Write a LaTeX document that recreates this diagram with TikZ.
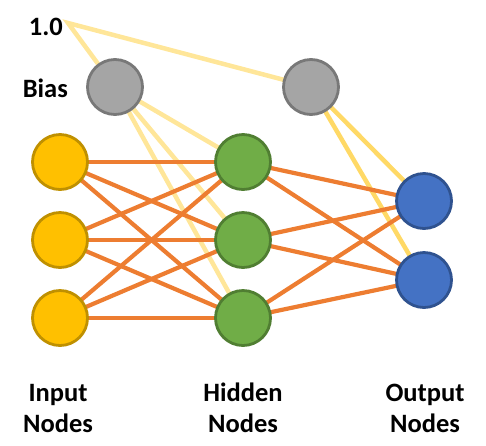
\documentclass[tikz,border=0pt]{standalone}
\usepackage{fontspec}
\setmainfont{Carlito}
\usetikzlibrary{backgrounds}
\definecolor{inF}{HTML}{FFC000}
\definecolor{inD}{HTML}{BF9000}
\definecolor{hidF}{HTML}{70AD47}
\definecolor{hidD}{HTML}{507E32}
\definecolor{outF}{HTML}{4472C4}
\definecolor{outD}{HTML}{2F528F}
\definecolor{biasF}{HTML}{A5A5A5}
\definecolor{biasD}{HTML}{787878}
\definecolor{edgeO}{HTML}{ED7D31}
\definecolor{edgeY}{HTML}{FFE699}
\definecolor{edgeY2}{HTML}{FFD966}
\tikzset{
  neuron/.style={circle, minimum size=55pt, inner sep=0pt, line width=2.8pt},
  inn/.style={neuron, fill=inF, draw=inD},
  hid/.style={neuron, fill=hidF, draw=hidD},
  outn/.style={neuron, fill=outF, draw=outD},
  biasn/.style={neuron, fill=biasF, draw=biasD},
  conn/.style={draw=edgeO, line width=4.2pt},
  bconn/.style={draw=edgeY, line width=4.5pt},
  bconnB/.style={draw=edgeY2, line width=4.5pt},
  lbl/.style={font=\fontsize{26.5}{31}\selectfont\bfseries, align=center, inner sep=0pt}
}
\begin{document}
\begin{tikzpicture}[x=1pt,y=-1pt]
\useasboundingbox (0,0) rectangle (486,445);
\node[biasn] (b1) at (115,87) {};
\node[biasn] (b2) at (311,87) {};
\node[inn] (i1) at (60,162) {};
\node[inn] (i2) at (60,240) {};
\node[inn] (i3) at (60,318) {};
\node[hid] (h1) at (243,162) {};
\node[hid] (h2) at (243,240) {};
\node[hid] (h3) at (243,318) {};
\node[outn] (o1) at (424,201) {};
\node[outn] (o2) at (424,280) {};
\coordinate (one) at (68,23);
\node[lbl, anchor=east] (onelbl) at (63,27) {1.0};
\node[lbl, anchor=east] (biaslbl) at (68,88) {Bias};
\node[lbl] (inlbl) at (58,408) {Input\\Nodes};
\node[lbl] (hidlbl) at (243,408) {Hidden\\Nodes};
\node[lbl] (outlbl) at (425,408) {Output\\Nodes};
\begin{scope}[on background layer]
  \draw[bconn] (b1.center) -- (one) -- (b2.center);
  \foreach \h in {h1,h2,h3} \draw[bconn] (b1.center) -- (\h.center);
  \foreach \o in {o1,o2} \draw[bconnB] (b2.center) -- (\o.center);
  \foreach \i in {i1,i2,i3}
    \foreach \h in {h1,h2,h3}
      \draw[conn] (\i.center) -- (\h.center);
  \foreach \h in {h1,h2,h3}
    \foreach \o in {o1,o2}
      \draw[conn] (\h.center) -- (\o.center);
\end{scope}
\end{tikzpicture}
\end{document}
